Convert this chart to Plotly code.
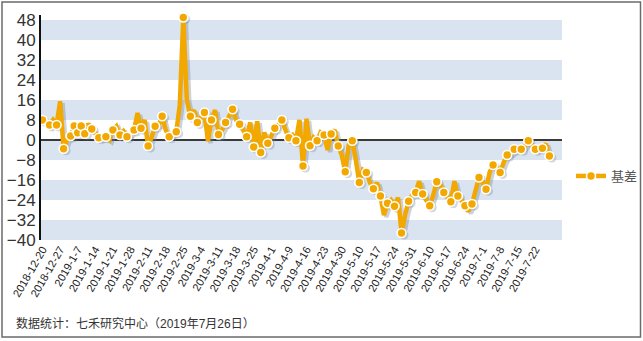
import plotly.graph_objects as go

# Weekly category labels (every 5 trading days)
tick_labels = [
    "2018-12-20", "2018-12-27", "2019-1-7", "2019-1-14", "2019-1-21", "2019-1-28",
    "2019-2-11", "2019-2-18", "2019-2-25", "2019-3-4", "2019-3-11", "2019-3-18",
    "2019-3-25", "2019-4-1", "2019-4-9", "2019-4-16", "2019-4-23", "2019-4-30",
    "2019-5-10", "2019-5-17", "2019-5-24", "2019-5-31", "2019-6-10", "2019-6-17",
    "2019-6-24", "2019-7-1", "2019-7-8", "2019-7-15", "2019-7-22",
]

# Daily basis values, 2018-12-20 .. 2019-7-26 (trading days)
basis = [
    8, 7, 6, 8, 6, 15.5, -3.5, 0, 1.6, 5.6,
    2.9, 5.6, 2.5, 6.5, 4.4, 3, 0.9, 0.5, 1.3, 0,
    4, 5.5, 2, 3.5, 1.3, 2.5, 4, 10.8, 4.7, 8,
    -2.4, 1, 5.5, 6, 9.5, 4, 1.3, 2, 3.3, 14,
    49, 16, 9.5, 12, 7, 9, 11, -0.5, 8, 12,
    2.2, 4, 7, 10, 12.3, 8, 6.3, 4, 1.3, 7,
    -2.8, 7.5, -5, 3, -1.3, 2, 4.7, 6, 8, 4,
    0.9, 2, -0.3, 8, -10.4, 8.5, -2.3, 1, -0.3, 3,
    2, -4, 2.4, 4, -2.4, -6, -12.7, -2, -0.3, -8,
    -17, -12, -13, -17, -19.5, -17, -22.4, -30, -25.3, -24,
    -26.5, -23, -37.2, -30, -24.5, -22, -21, -16.5, -21.6, -24,
    -26.3, -22, -16.7, -18, -21, -23, -24.7, -16.5, -22.4, -24,
    -26.3, -28.5, -25.6, -21, -15, -17, -19.7, -13, -10, -11,
    -13, -9, -6, -5.5, -3.7, -3, -3.7, -2.5, -0.3, -2,
    -3.7, -4, -3.3, -1.5, -6.4,
]

# Points that carry a marker
marker_idx = sorted(set(range(0, len(basis), 2)) | {9, 11})

y_ticks = list(range(-40, 49, 8))
y_top = 50  # axis runs a little past the last tick

ORANGE = "#F3A800"
FONT = "Liberation Sans, Arial, Noto Sans CJK SC"

idx = list(range(len(basis)))

fig = go.Figure()

# soft drop shadow under the line
fig.add_trace(go.Scatter(
    x=[i + 0.7 for i in idx], y=[v - 0.8 for v in basis],
    mode="lines", line=dict(color="rgba(110,125,150,0.35)", width=4.5),
    hoverinfo="skip", showlegend=False, cliponaxis=False,
))
fig.add_trace(go.Scatter(
    x=[i + 0.7 for i in marker_idx], y=[basis[i] - 0.8 for i in marker_idx],
    mode="markers", marker=dict(color="rgba(110,125,150,0.3)", size=9),
    hoverinfo="skip", showlegend=False, cliponaxis=False,
))
# main line
fig.add_trace(go.Scatter(
    x=idx, y=basis, mode="lines",
    line=dict(color=ORANGE, width=4.5), showlegend=False, cliponaxis=False,
))
# markers
fig.add_trace(go.Scatter(
    x=marker_idx, y=[basis[i] for i in marker_idx], mode="markers",
    marker=dict(color=ORANGE, size=9, line=dict(color="white", width=1.6)),
    showlegend=False, cliponaxis=False,
))
# legend entry
fig.add_trace(go.Scatter(
    x=[None], y=[None], mode="lines+markers", name="基差",
    line=dict(color=ORANGE, width=4.5),
    marker=dict(color=ORANGE, size=9, line=dict(color="white", width=1.6)),
))

# alternating horizontal bands
shapes = []
for lo in y_ticks[:-1:2]:
    shapes.append(dict(type="rect", xref="paper", yref="y", x0=0, x1=1,
                       y0=lo, y1=lo + 8, fillcolor="#D9E4F0",
                       line=dict(width=0), layer="below"))
# outer frame
W, H = 643, 341
L, R, T, B = 41, 81, 15, 101
pw, ph = W - L - R, H - T - B
def px(x):
    return (x - L) / pw
def py(y):
    return 1 - (y - T) / ph
shapes.append(dict(type="rect", xref="paper", yref="paper",
                   x0=px(2), x1=px(640.5), y0=py(337), y1=py(2),
                   line=dict(color="#6b6b6b", width=1.5), layer="above"))

fig.update_layout(
    width=W, height=H,
    margin=dict(l=L, r=R, t=T, b=B, pad=0, autoexpand=False),
    paper_bgcolor="white", plot_bgcolor="white",
    font=dict(family=FONT, color="#333333"),
    shapes=shapes,
    showlegend=True,
    legend=dict(x=px(571), y=py(176), xanchor="left", yanchor="middle",
                font=dict(size=13, color="#555555"), bgcolor="rgba(0,0,0,0)"),
    annotations=[dict(
        text="数据统计：七禾研究中心（2019年7月26日）",
        xref="paper", yref="paper", x=px(14), y=py(323),
        xanchor="left", yanchor="middle", showarrow=False,
        font=dict(size=12, color="#333333", family=FONT),
    )],
)

fig.update_xaxes(
    range=[-1.5 / 3.52, -1.5 / 3.52 + 148],
    tickmode="array", tickvals=list(range(0, 141, 5)), ticktext=tick_labels,
    tickangle=-60, tickfont=dict(size=11, color="#222222"),
    showgrid=False, zeroline=False, showline=False, ticks="",
)
fig.update_yaxes(
    range=[-40, y_top], tickmode="array", tickvals=y_ticks,
    tickfont=dict(size=17, color="#333333"),
    showgrid=False, zeroline=True, zerolinecolor="#3a3a3a", zerolinewidth=1.6,
    showline=True, linecolor="#111111", linewidth=2, ticks="",
)

fig.write_html("out.html")
